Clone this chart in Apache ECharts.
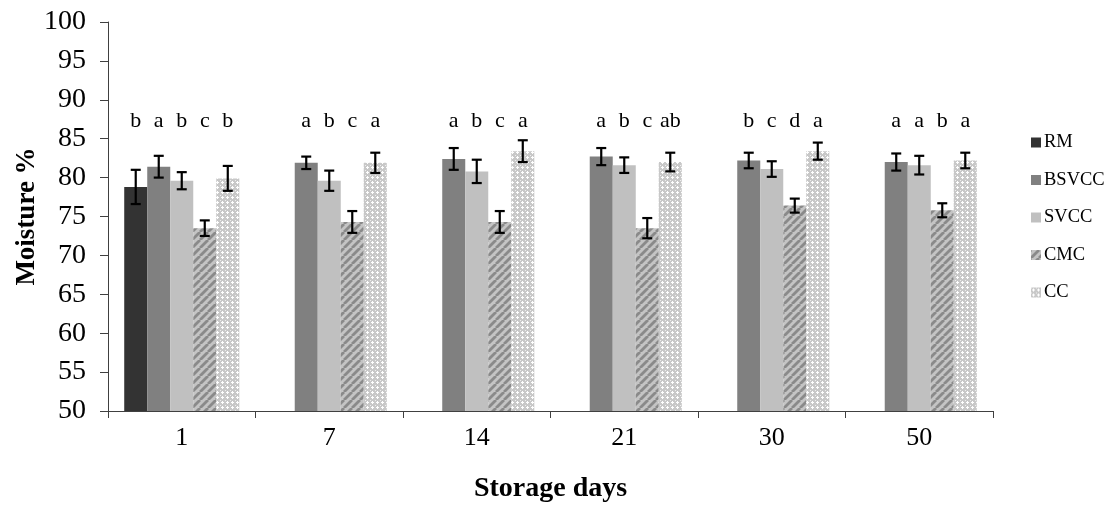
<!DOCTYPE html>
<html>
<head>
<meta charset="utf-8">
<script src="https://cdn.jsdelivr.net/npm/echarts@6/dist/echarts.min.js"></script>
<style>html,body{margin:0;padding:0;background:#fff}#c{width:1113px;height:511px}</style>
</head>
<body>
<div id="c"></div>
<script>
var categories = ['1', '7', '14', '21', '30', '50'];
var seriesNames = ['RM', 'BSVCC', 'SVCC', 'CMC', 'CC'];
var RM = [78.8, null, null, null, null, null];
var BSVCC = [81.4, 81.9, 82.4, 82.7, 82.2, 82.0];
var SVCC = [79.6, 79.6, 80.8, 81.6, 81.1, 81.6];
var CMC = [73.5, 74.3, 74.3, 73.5, 76.4, 75.8];
var CC = [79.9, 81.9, 83.4, 82.0, 83.4, 82.2];
var RM_err = [2.2, null, null, null, null, null];
var BSVCC_err = [1.4, 0.8, 1.4, 1.1, 1.0, 1.1];
var SVCC_err = [1.1, 1.3, 1.5, 1.0, 1.0, 1.2];
var CMC_err = [1.0, 1.4, 1.4, 1.3, 0.9, 0.9];
var CC_err = [1.6, 1.3, 1.4, 1.2, 1.1, 1.0];
var RM_letters = ['b', '', '', '', '', ''];
var BSVCC_letters = ['a', 'a', 'a', 'a', 'b', 'a'];
var SVCC_letters = ['b', 'b', 'b', 'b', 'c', 'a'];
var CMC_letters = ['c', 'c', 'c', 'c', 'd', 'b'];
var CC_letters = ['b', 'a', 'a', 'ab', 'a', 'a'];
var yTicks = {min: 50, max: 100, interval: 5};

var values = [RM, BSVCC, SVCC, CMC, CC];
var errs = [RM_err, BSVCC_err, SVCC_err, CMC_err, CC_err];
var letters = [RM_letters, BSVCC_letters, SVCC_letters, CMC_letters, CC_letters];

function stripePattern() {
  var c = document.createElement('canvas');
  c.width = 8; c.height = 8;
  var g = c.getContext('2d');
  g.fillStyle = '#c4c4c4'; g.fillRect(0, 0, 8, 8);
  g.strokeStyle = '#8a8a8a'; g.lineWidth = 2.8;
  [-8, 0, 8].forEach(function (x) {
    g.beginPath(); g.moveTo(x, 8); g.lineTo(x + 8, 0); g.stroke();
  });
  return c;
}
function crossPattern() {
  var c = document.createElement('canvas');
  c.width = 5; c.height = 5;
  var g = c.getContext('2d');
  g.fillStyle = '#c8c8c8'; g.fillRect(0, 0, 5, 5);
  g.fillStyle = '#ffffff';
  g.fillRect(2, 1, 1, 3); g.fillRect(1, 2, 3, 1);
  g.fillStyle = '#eeeeee';
  g.fillRect(0, 0, 1, 1);
  return c;
}
var fills = ['#333333', '#808080', '#c0c0c0',
  {image: stripePattern(), repeat: 'repeat'},
  {image: crossPattern(), repeat: 'repeat'}];

var GAP = 0.22;
var serif = 'Liberation Serif';
var series = [];
seriesNames.forEach(function (n, i) {
  series.push({
    name: n, type: 'bar', data: values[i], barGap: '0%', barCategoryGap: (GAP * 100) + '%',
    itemStyle: {color: fills[i]}, emphasis: {disabled: true}, silent: true
  });
});
var errData = [];
values.forEach(function (arr, s) {
  arr.forEach(function (v, c) {
    if (v != null) errData.push([c, v, errs[s][c], s, letters[s][c]]);
  });
});
series.push({
  type: 'custom', name: 'err', data: errData, z: 10, silent: true,
  encode: {x: 0, y: 1},
  renderItem: function (params, api) {
    var c = api.value(0), v = api.value(1), e = api.value(2), s = api.value(3);
    var letter = errData[params.dataIndex][4];
    var band = api.size([1, 0])[0];
    var bw = band * (1 - GAP) / seriesNames.length;
    var base = api.coord([c, v]);
    var x = base[0] + (s - (seriesNames.length - 1) / 2) * bw;
    var top = api.coord([c, v + e])[1];
    var bot = api.coord([c, v - e])[1];
    var ly = api.coord([c, 87.3])[1];
    var cap = 5;
    var st = {stroke: '#000', lineWidth: 2.2};
    return {
      type: 'group', children: [
        {type: 'line', shape: {x1: x, y1: top, x2: x, y2: bot}, style: st},
        {type: 'line', shape: {x1: x - cap, y1: top, x2: x + cap, y2: top}, style: st},
        {type: 'line', shape: {x1: x - cap, y1: bot, x2: x + cap, y2: bot}, style: st},
        {type: 'text', style: {text: letter, x: x, y: ly, align: 'center', verticalAlign: 'middle',
          font: '22px "' + serif + '"', fill: '#000'}}
      ]
    };
  }
});

var chart = echarts.init(document.getElementById('c'), null, {renderer: 'canvas'});
chart.setOption({
  animation: false,
  backgroundColor: '#fff',
  grid: {left: 108, right: 120, top: 22, bottom: 100, containLabel: false},
  legend: {
    data: seriesNames, orient: 'vertical', left: 1031, top: 133, padding: 0,
    itemWidth: 10, itemHeight: 10, itemGap: 18.5, icon: 'rect',
    textStyle: {fontFamily: serif, fontSize: 18.5, color: '#000', padding: [0, 0, 0, -2]},
    selectedMode: false
  },
  xAxis: {
    type: 'category', data: categories,
    name: 'Storage days', nameLocation: 'middle', nameGap: 64,
    nameTextStyle: {fontFamily: serif, fontSize: 28, fontWeight: 'bold', color: '#000'},
    axisLine: {lineStyle: {color: '#404040', width: 1}},
    axisTick: {show: true, length: 7, alignWithLabel: false, lineStyle: {color: '#404040'}},
    axisLabel: {fontFamily: serif, fontSize: 26, color: '#000', margin: 14}
  },
  yAxis: {
    type: 'value', min: yTicks.min, max: yTicks.max, interval: yTicks.interval,
    name: 'Moisture %', nameLocation: 'middle', nameGap: 67, nameRotate: 90,
    nameMoveOverlap: false,
    nameTextStyle: {fontFamily: serif, fontSize: 27, fontWeight: 'bold', color: '#000'},
    splitLine: {show: false},
    axisLine: {show: true, lineStyle: {color: '#404040', width: 1}},
    axisTick: {show: true, length: 8, lineStyle: {color: '#404040'}},
    axisLabel: {fontFamily: serif, fontSize: 28, color: '#000', margin: 22}
  },
  series: series
});
</script>
</body>
</html>
